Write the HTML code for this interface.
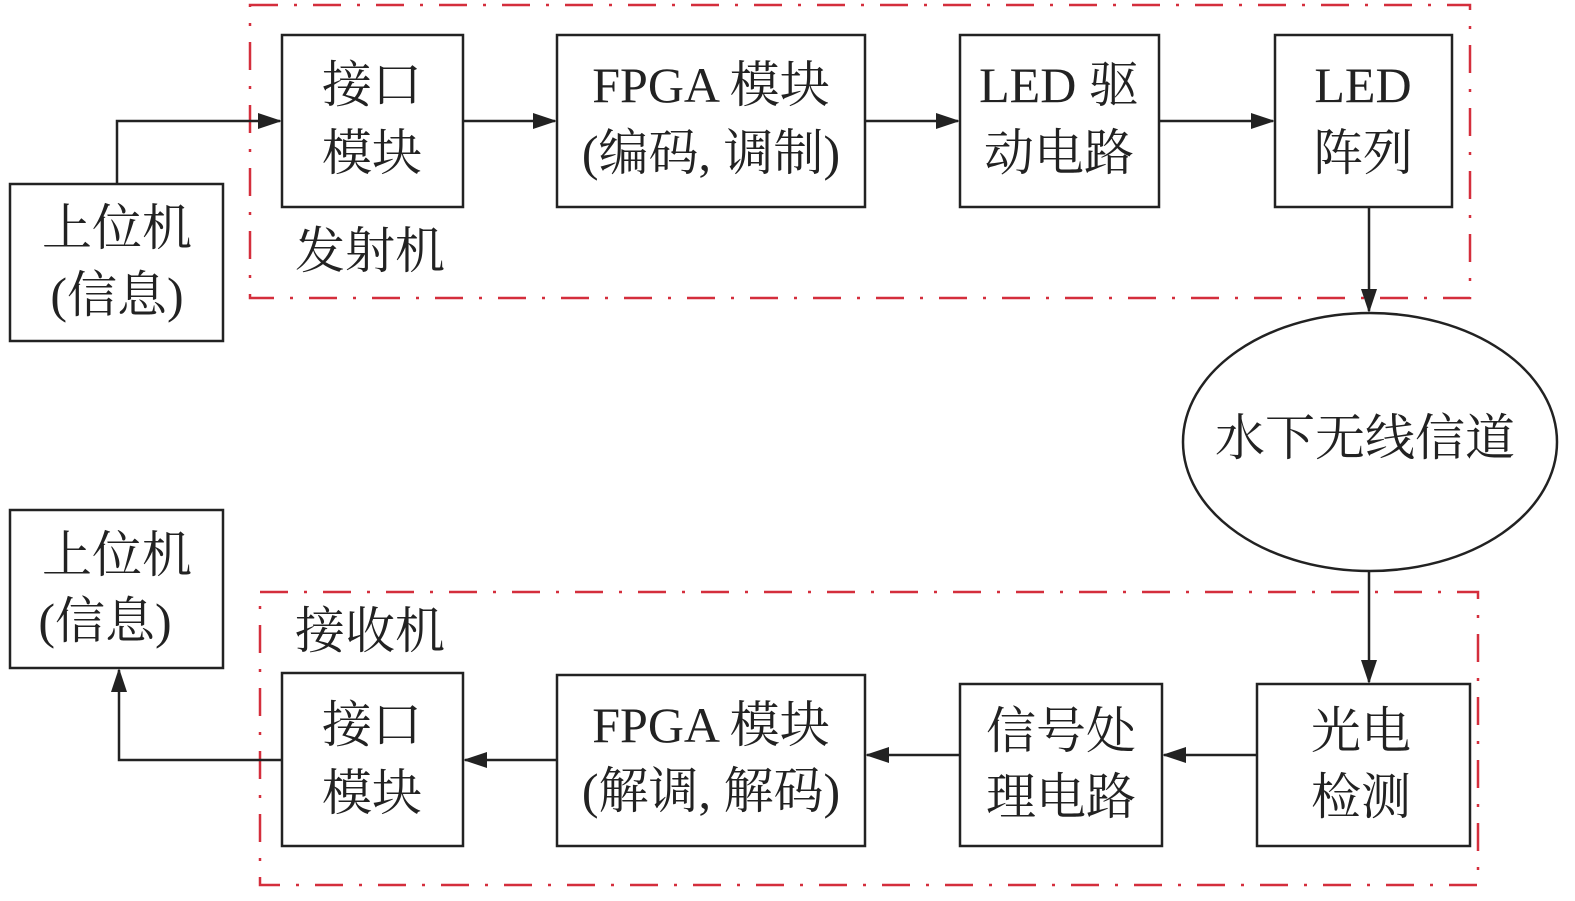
<!DOCTYPE html>
<html><head><meta charset="utf-8"><style>
html,body{margin:0;padding:0;background:#fff}
text{font-family:"Liberation Serif","Noto Serif CJK SC",serif;font-size:50px;fill:#222}
</style></head><body>
<svg width="1575" height="896" xmlns="http://www.w3.org/2000/svg">
<defs><marker id="a" markerWidth="24" markerHeight="16" refX="22" refY="8" orient="auto" markerUnits="userSpaceOnUse"><path d="M0,0 L24,8 L0,16 Z" fill="#222"/></marker></defs>
<g fill="none" stroke="#d42e3c" stroke-width="2.5" stroke-dasharray="28 16 3 16">
<rect x="250" y="5" width="1220" height="293"/>
<rect x="260" y="592" width="1218" height="293"/>
</g>
<g fill="none" stroke="#222" stroke-width="2.5">
<rect x="10" y="184" width="213" height="157"/>
<rect x="282" y="35" width="181" height="172"/>
<rect x="557" y="35" width="308" height="172"/>
<rect x="960" y="35" width="199" height="172"/>
<rect x="1275" y="35" width="177" height="172"/>
<ellipse cx="1370" cy="442" rx="187" ry="129"/>
<rect x="10" y="510" width="213" height="158"/>
<rect x="282" y="673" width="181" height="173"/>
<rect x="557" y="675" width="308" height="171"/>
<rect x="960" y="684" width="202" height="162"/>
<rect x="1257" y="684" width="213" height="162"/>
<path d="M117,184 V121 H280" marker-end="url(#a)"/>
<path d="M463,121 H555" marker-end="url(#a)"/>
<path d="M865,121 H958" marker-end="url(#a)"/>
<path d="M1159,121 H1273" marker-end="url(#a)"/>
<path d="M1369,207 V311" marker-end="url(#a)"/>
<path d="M1369,571 V682" marker-end="url(#a)"/>
<path d="M1257,755 H1164" marker-end="url(#a)"/>
<path d="M960,755 H867" marker-end="url(#a)"/>
<path d="M557,760 H465" marker-end="url(#a)"/>
<path d="M282,760 H119 V670" marker-end="url(#a)"/>
</g>
<g text-anchor="middle">
<text x="117" y="245">上位机</text><text x="117" y="312">(信息)</text>
<text x="372" y="102">接口</text><text x="372" y="170">模块</text>
<text x="711" y="102">FPGA 模块</text><text x="711" y="170">(编码, 调制)</text>
<text x="1059" y="102">LED 驱</text><text x="1059" y="170">动电路</text>
<text x="1363" y="102">LED</text><text x="1363" y="170">阵列</text>
<text x="1365" y="455">水下无线信道</text>
<text x="117" y="572">上位机</text><text x="105" y="638">(信息)</text>
<text x="372" y="742">接口</text><text x="372" y="810">模块</text>
<text x="711" y="742">FPGA 模块</text><text x="711" y="808">(解调, 解码)</text>
<text x="1061" y="748">信号处</text><text x="1061" y="814">理电路</text>
<text x="1361" y="748">光电</text><text x="1361" y="814">检测</text>
</g>
<text x="295" y="268">发射机</text>
<text x="295" y="648">接收机</text>
</svg>
</body></html>
